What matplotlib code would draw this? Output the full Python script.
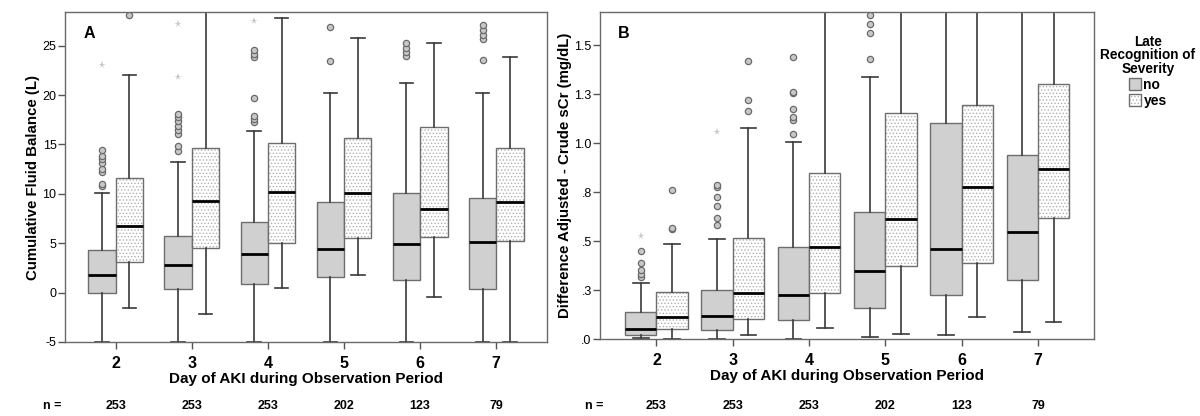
import matplotlib
matplotlib.use("Agg")
import matplotlib.pyplot as plt
import matplotlib.colors as mcolors
from matplotlib.patches import Patch
from matplotlib.transforms import blended_transform_factory

plt.rcParams['font.family'] = ['Liberation Sans', 'DejaVu Sans']
plt.rcParams['hatch.linewidth'] = 0.6
plt.rcParams['axes.unicode_minus'] = False

days = ['2', '3', '4', '5', '6', '7']
n_counts = ['253', '253', '253', '202', '123', '79']
groups = ['no', 'yes']

# ---------- Panel A: Cumulative Fluid Balance (L) ----------
a_no_whislo = [-5, -5, -5, -5, -5, -5]
a_no_q1 = [0.0, 0.4, 0.9, 1.6, 1.3, 0.4]
a_no_med = [1.8, 2.8, 3.9, 4.4, 4.9, 5.1]
a_no_q3 = [4.35, 5.7, 7.15, 9.2, 10.05, 9.55]
a_no_whishi = [10.05, 13.25, 16.35, 20.25, 21.25, 20.25]
a_no_fliers = [[10.8, 11.0, 12.2, 12.5, 13.1, 13.5, 13.8, 14.4],
               [14.3, 14.8, 16.1, 16.5, 16.9, 17.4, 17.8, 18.1],
               [17.3, 17.6, 17.9, 19.7, 23.9, 24.2, 24.6],
               [23.4, 26.9],
               [24.0, 24.4, 24.8, 25.3],
               [23.5, 25.7, 26.1, 26.6, 27.1]]
a_no_extremes = [[23.0], [21.8, 27.2], [27.5], [], [], []]

a_yes_whislo = [-1.6, -2.2, 0.45, 1.75, -0.45, -5]
a_yes_q1 = [3.1, 4.55, 5.0, 5.55, 5.65, 5.25]
a_yes_med = [6.7, 9.3, 10.2, 10.05, 8.45, 9.15]
a_yes_q3 = [11.55, 14.6, 15.1, 15.6, 16.8, 14.6]
a_yes_whishi = [22.05, 28.4, 27.75, 25.75, 25.25, 23.85]
a_yes_fliers = [[28.1], [], [], [], [], []]
a_yes_extremes = [[], [], [], [], [], []]

# ---------- Panel B: Difference Adjusted - Crude sCr (mg/dL) ----------
b_no_whislo = [0.005, 0.0, 0.0, 0.012, 0.019, 0.037]
b_no_q1 = [0.022, 0.044, 0.098, 0.16, 0.224, 0.301]
b_no_med = [0.049, 0.12, 0.226, 0.35, 0.459, 0.549]
b_no_q3 = [0.136, 0.248, 0.472, 0.65, 1.105, 0.939]
b_no_whishi = [0.287, 0.51, 1.007, 1.337, 1.67, 1.67]
b_no_fliers = [[0.318, 0.333, 0.355, 0.386, 0.452],
               [0.582, 0.619, 0.677, 0.728, 0.776, 0.786],
               [1.049, 1.119, 1.133, 1.177, 1.257, 1.262, 1.439],
               [1.43, 1.563, 1.607, 1.656],
               [], []]
b_no_extremes = [[0.527], [1.059], [], [], [], []]

b_yes_whislo = [0.0, 0.022, 0.054, 0.024, 0.115, 0.087]
b_yes_q1 = [0.053, 0.104, 0.235, 0.372, 0.388, 0.619]
b_yes_med = [0.112, 0.235, 0.472, 0.614, 0.777, 0.869]
b_yes_q3 = [0.241, 0.517, 0.85, 1.153, 1.194, 1.303]
b_yes_whishi = [0.486, 1.078, 1.67, 1.67, 1.67, 1.67]
b_yes_fliers = [[0.561, 0.566, 0.760], [1.165, 1.221, 1.421], [], [], [], []]
b_yes_extremes = [[], [], [], [], [], []]

b_ticks = [0.0, 0.25, 0.5, 0.75, 1.0, 1.25, 1.5]
b_ticklabels = ['.0', '.3', '.5', '.8', '1.0', '1.3', '1.5']

NO_FILL = '#d0d0d0'
EDGE = '#6e6e6e'
DOT = '#b0b0b0'

fig = plt.figure(figsize=(12, 4.16), dpi=100)
axA = fig.add_axes([0.054, 0.178, 0.402, 0.793])
axB = fig.add_axes([0.500, 0.185, 0.412, 0.786])


def make_stats(wlo, q1, med, q3, whi, fl):
    return [dict(whislo=a, q1=b, med=c, q3=d, whishi=e, fliers=f)
            for a, b, c, d, e, f in zip(wlo, q1, med, q3, whi, fl)]


def draw(ax, no_stats, yes_stats, no_ext, yes_ext, width):
    x = list(range(len(days)))
    off = width / 2
    common = dict(widths=width, patch_artist=True, manage_ticks=False,
                  capwidths=width / 2,
                  medianprops=dict(color='black', linewidth=2.0),
                  whiskerprops=dict(color='#3a3a3a', linewidth=1.2),
                  capprops=dict(color='#3a3a3a', linewidth=1.2),
                  flierprops=dict(marker='o', markersize=4.5,
                                  markerfacecolor='#c8c8c8',
                                  markeredgecolor='#6a6a6a',
                                  markeredgewidth=0.9))
    ax.bxp(no_stats, positions=[p - off for p in x],
           boxprops=dict(facecolor=NO_FILL, edgecolor=EDGE, linewidth=1.0),
           **common)
    by = ax.bxp(yes_stats, positions=[p + off for p in x],
                boxprops=dict(facecolor='white', edgecolor=EDGE, linewidth=1.0,
                              hatch='.....'),
                **common)
    for p in by['boxes']:
        p._hatch_color = mcolors.to_rgba(DOT)
    for i, vals in enumerate(no_ext):
        if vals:
            ax.plot([i - off] * len(vals), vals, linestyle='none', marker='*',
                    markersize=5.5, color='#c8c8c8', markeredgewidth=0)
    for i, vals in enumerate(yes_ext):
        if vals:
            ax.plot([i + off] * len(vals), vals, linestyle='none', marker='*',
                    markersize=5.5, color='#c8c8c8', markeredgewidth=0)
    ax.set_xticks(x)
    ax.set_xticklabels(days, fontsize=11.5, fontweight='bold')
    ax.tick_params(axis='x', length=5, width=1, color='#555555', pad=5)
    ax.tick_params(axis='y', length=5, width=1, color='#555555', labelsize=9, pad=1)
    for s in ax.spines.values():
        s.set_color('#6a6a6a')
        s.set_linewidth(1.0)
    ax.set_xlabel('Day of AKI during Observation Period', fontsize=11,
                  fontweight='bold', labelpad=1)
    tr = blended_transform_factory(ax.transData, fig.transFigure)
    for i, n in enumerate(n_counts):
        ax.text(i, 0.024, n, transform=tr, ha='center', va='center',
                fontsize=9, fontweight='bold')


draw(axA,
     make_stats(a_no_whislo, a_no_q1, a_no_med, a_no_q3, a_no_whishi, a_no_fliers),
     make_stats(a_yes_whislo, a_yes_q1, a_yes_med, a_yes_q3, a_yes_whishi, a_yes_fliers),
     a_no_extremes, a_yes_extremes, 0.36)
axA.set_xlim(-0.67, 5.67)
axA.set_ylim(-5, 28.4)
axA.set_yticks([-5, 0, 5, 10, 15, 20, 25])
axA.set_ylabel('Cumulative Fluid Balance (L)', fontsize=10.8, fontweight='bold', labelpad=2)
axA.text(0.05, 0.935, 'A', transform=axA.transAxes, fontsize=11.5,
         fontweight='bold', ha='center', va='center')

draw(axB,
     make_stats(b_no_whislo, b_no_q1, b_no_med, b_no_q3, b_no_whishi, b_no_fliers),
     make_stats(b_yes_whislo, b_yes_q1, b_yes_med, b_yes_q3, b_yes_whishi, b_yes_fliers),
     b_no_extremes, b_yes_extremes, 0.41)
axB.set_xlim(-0.74, 5.74)
axB.set_ylim(0, 1.67)
axB.set_yticks(b_ticks)
axB.set_yticklabels(b_ticklabels)
axB.set_ylabel('Difference Adjusted - Crude sCr (mg/dL)', fontsize=10.8,
               fontweight='bold', labelpad=2)
axB.text(0.048, 0.935, 'B', transform=axB.transAxes, fontsize=11.5,
         fontweight='bold', ha='center', va='center')

fig.text(0.036, 0.024, 'n =', ha='left', va='center', fontsize=9, fontweight='bold')
fig.text(0.4875, 0.024, 'n =', ha='left', va='center', fontsize=9, fontweight='bold')

handles = [Patch(facecolor=NO_FILL, edgecolor=EDGE, label='no'),
           Patch(facecolor='white', edgecolor=EDGE, hatch='.....', label='yes')]
leg = fig.legend(handles=handles, loc='upper center',
                 bbox_to_anchor=(0.9565, 0.94), frameon=False,
                 title='Late\nRecognition of\nSeverity',
                 prop=dict(size=10, weight='bold'),
                 handlelength=0.9, handleheight=0.9, handletextpad=0.15,
                 labelspacing=0.15, borderpad=0.2)
leg.get_title().set_fontweight('bold')
leg.get_title().set_fontsize(9.8)
leg.get_title().set_multialignment('center')
leg.get_title().set_linespacing(0.95)
leg.legend_handles[1]._hatch_color = mcolors.to_rgba(DOT)

fig.savefig('out.png', dpi=100)
